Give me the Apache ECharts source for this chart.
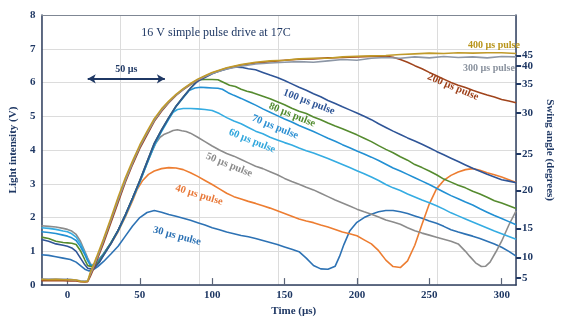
<!DOCTYPE html>
<html>
<head>
<meta charset="utf-8">
<script src="https://cdn.jsdelivr.net/npm/echarts@6/dist/echarts.min.js"></script>
<style>html,body{margin:0;padding:0;background:#fff}#c{width:563px;height:322px}</style>
</head>
<body>
<div id="c"></div>
<script>
// ---- axes / ticks ----
const xMin = -18, xMax = 310;
const xTicks = [0, 50, 100, 150, 200, 250, 300];
const yTicks = [0, 1, 2, 3, 4, 5, 6, 7, 8];
const angleLabels = [5, 10, 15, 20, 25, 30, 35, 40, 45];
const angleTickV = [0.21, 0.82, 1.68, 2.80, 3.89, 5.10, 5.96, 6.49, 6.80];
const seriesNames = ['30 µs pulse','40 µs pulse','50 µs pulse','60 µs pulse','70 µs pulse','80 µs pulse','100 µs pulse','200 µs pulse','300 µs pulse','400 µs pulse'];
const arrowSpan = [14, 67.3];
const arrowLevel = 6.11;

// ---- series data: [time µs, light intensity V] ----
const pulse30 = [[-18,0.90],[-13,0.88],[-8,0.84],[-3,0.80],[2,0.76],[6,0.68],[9,0.58],[12,0.47],[15,0.42],[18,0.46],[21,0.55],[25,0.7],[30,0.92],[35,1.15],[40,1.45],[45,1.75],[50,2.0],[55,2.15],[60,2.21],[65,2.16],[70,2.09],[75,2.04],[80,1.98],[85,1.92],[90,1.85],[95,1.78],[100,1.70],[105,1.64],[110,1.57],[115,1.52],[120,1.47],[125,1.43],[130,1.38],[135,1.32],[140,1.26],[145,1.2],[150,1.13],[155,1.06],[160,0.99],[165,0.8],[170,0.58],[175,0.48],[180,0.47],[185,0.56],[188,0.85],[191,1.2],[195,1.6],[200,1.86],[205,2.0],[210,2.1],[215,2.17],[220,2.21],[225,2.21],[230,2.17],[235,2.12],[240,2.05],[245,1.98],[250,1.9],[255,1.83],[260,1.74],[265,1.64],[270,1.57],[275,1.51],[280,1.45],[285,1.38],[290,1.3],[295,1.22],[300,1.12],[305,1.0],[310,0.86]];
const pulse40 = [[14,0.58],[17,0.56],[20,0.68],[25,0.92],[30,1.22],[35,1.58],[40,2.02],[45,2.5],[48,2.82],[52,3.1],[56,3.28],[60,3.38],[65,3.45],[70,3.48],[75,3.47],[80,3.42],[85,3.33],[90,3.22],[95,3.1],[100,2.98],[105,2.85],[110,2.72],[115,2.62],[120,2.55],[125,2.48],[130,2.42],[135,2.35],[140,2.28],[145,2.2],[150,2.12],[155,2.04],[160,1.96],[165,1.9],[170,1.85],[175,1.78],[180,1.72],[185,1.65],[190,1.57],[195,1.52],[200,1.46],[205,1.34],[210,1.22],[215,1.02],[220,0.74],[225,0.55],[230,0.52],[235,0.72],[240,1.18],[245,1.8],[250,2.4],[255,2.85],[260,3.1],[265,3.25],[270,3.35],[275,3.42],[280,3.45],[285,3.4],[290,3.33],[295,3.27],[300,3.2],[305,3.12],[310,3.04]];
const pulse50 = [[-18,1.76],[-13,1.74],[-8,1.72],[-3,1.68],[0,1.65],[3,1.6],[6,1.5],[9,1.3],[12,1.0],[14,0.8],[16,0.62],[18,0.6],[21,0.72],[25,0.93],[30,1.25],[35,1.62],[40,2.06],[45,2.56],[50,3.06],[55,3.6],[58,3.92],[61,4.2],[64,4.38],[67,4.47],[70,4.52],[73,4.58],[76,4.6],[79,4.57],[82,4.55],[85,4.5],[90,4.38],[95,4.25],[100,4.12],[105,4.0],[110,3.9],[115,3.82],[120,3.72],[125,3.62],[130,3.52],[135,3.45],[140,3.36],[145,3.27],[150,3.16],[155,3.07],[160,2.99],[165,2.9],[170,2.82],[175,2.72],[180,2.62],[185,2.52],[190,2.43],[195,2.34],[200,2.25],[205,2.17],[210,2.1],[215,2.02],[220,1.93],[225,1.87],[230,1.8],[235,1.7],[240,1.61],[245,1.54],[250,1.48],[255,1.42],[260,1.36],[265,1.3],[270,1.22],[275,1.0],[278,0.85],[282,0.66],[286,0.55],[289,0.56],[292,0.68],[296,0.98],[300,1.3],[305,1.78],[310,2.2]];
const pulse60 = [[-18,1.70],[-13,1.68],[-8,1.65],[-3,1.6],[0,1.58],[3,1.52],[6,1.42],[9,1.22],[12,0.95],[14,0.75],[16,0.6],[18,0.58],[21,0.7],[25,0.92],[30,1.24],[35,1.6],[40,2.05],[45,2.55],[50,3.05],[55,3.6],[60,4.12],[65,4.55],[70,4.92],[73,5.12],[76,5.2],[80,5.23],[85,5.23],[90,5.22],[95,5.2],[100,5.17],[105,5.08],[110,4.96],[115,4.86],[120,4.78],[125,4.67],[130,4.56],[135,4.48],[140,4.38],[145,4.3],[150,4.22],[155,4.15],[160,4.06],[165,3.98],[170,3.91],[175,3.83],[180,3.75],[185,3.66],[190,3.57],[195,3.48],[200,3.39],[205,3.3],[210,3.2],[215,3.1],[220,2.98],[225,2.88],[230,2.8],[235,2.7],[240,2.61],[245,2.52],[250,2.44],[255,2.35],[260,2.25],[265,2.14],[270,2.05],[275,1.96],[280,1.87],[285,1.78],[290,1.69],[295,1.6],[300,1.52],[305,1.44],[310,1.36]];
const pulse70 = [[-18,1.58],[-13,1.56],[-8,1.53],[-3,1.48],[0,1.45],[3,1.4],[6,1.32],[9,1.14],[12,0.9],[14,0.72],[16,0.58],[18,0.57],[21,0.69],[25,0.93],[30,1.25],[35,1.62],[40,2.07],[45,2.57],[50,3.07],[55,3.62],[60,4.16],[65,4.57],[70,4.93],[75,5.28],[80,5.55],[84,5.76],[88,5.84],[92,5.86],[96,5.85],[100,5.84],[104,5.83],[107,5.8],[111,5.7],[115,5.62],[120,5.53],[125,5.43],[130,5.33],[135,5.22],[140,5.12],[145,5.02],[150,4.92],[155,4.83],[160,4.73],[165,4.64],[170,4.55],[175,4.45],[180,4.35],[185,4.26],[190,4.16],[195,4.07],[200,3.97],[205,3.88],[210,3.79],[215,3.69],[220,3.58],[225,3.47],[230,3.38],[235,3.28],[240,3.18],[245,3.08],[250,2.98],[255,2.87],[260,2.76],[265,2.65],[270,2.56],[275,2.46],[280,2.37],[285,2.26],[290,2.16],[295,2.06],[300,1.97],[305,1.88],[310,1.79]];
const pulse80 = [[-18,1.42],[-13,1.38],[-8,1.3],[-3,1.26],[0,1.25],[3,1.24],[6,1.2],[9,1.02],[12,0.75],[14,0.58],[16,0.55],[19,0.55],[22,0.7],[25,0.9],[30,1.24],[35,1.62],[40,2.08],[45,2.58],[50,3.1],[55,3.65],[60,4.2],[65,4.6],[70,4.96],[75,5.3],[80,5.57],[85,5.83],[88,5.98],[91,6.08],[95,6.09],[100,6.09],[104,6.08],[108,6.0],[112,5.92],[116,5.88],[120,5.8],[124,5.74],[128,5.7],[132,5.64],[136,5.58],[140,5.52],[145,5.43],[150,5.34],[155,5.24],[160,5.15],[165,5.08],[170,4.98],[175,4.9],[180,4.8],[185,4.71],[190,4.63],[195,4.54],[200,4.45],[205,4.35],[210,4.25],[215,4.13],[220,4.02],[225,3.92],[230,3.8],[235,3.7],[240,3.57],[245,3.48],[250,3.38],[255,3.27],[260,3.14],[265,3.05],[270,2.96],[275,2.88],[280,2.78],[285,2.7],[290,2.6],[295,2.5],[300,2.43],[305,2.35],[310,2.27]];
const pulse100 = [[-18,1.35],[-13,1.3],[-8,1.22],[-3,1.18],[0,1.15],[3,1.1],[6,1.0],[9,0.8],[12,0.6],[14,0.5],[16,0.48],[19,0.52],[22,0.67],[25,0.88],[30,1.22],[35,1.62],[40,2.08],[45,2.58],[50,3.1],[55,3.65],[60,4.2],[65,4.6],[70,4.96],[75,5.3],[80,5.57],[85,5.83],[90,6.04],[95,6.15],[100,6.26],[105,6.34],[110,6.4],[115,6.46],[120,6.45],[125,6.41],[130,6.38],[135,6.3],[140,6.22],[145,6.15],[150,6.06],[155,5.96],[160,5.86],[165,5.77],[170,5.67],[175,5.58],[180,5.47],[185,5.38],[190,5.28],[195,5.19],[200,5.1],[205,5.0],[210,4.9],[215,4.78],[220,4.67],[225,4.56],[230,4.46],[235,4.36],[240,4.27],[245,4.17],[250,4.07],[255,3.96],[260,3.86],[265,3.76],[270,3.66],[275,3.56],[280,3.46],[285,3.37],[290,3.28],[295,3.2],[300,3.12],[305,3.08],[310,3.03]];
const pulse200 = [[-18,0.13],[-13,0.14],[-8,0.13],[-3,0.13],[2,0.12],[6,0.12],[9,0.1],[12,0.09],[14,0.1],[16,0.28],[18,0.48],[20,0.7],[25,1.25],[30,1.85],[35,2.45],[40,3.05],[45,3.57],[50,4.05],[55,4.45],[60,4.85],[65,5.15],[70,5.4],[75,5.62],[80,5.79],[85,5.94],[90,6.07],[95,6.18],[100,6.28],[110,6.42],[120,6.52],[130,6.58],[140,6.62],[150,6.66],[160,6.69],[170,6.7],[180,6.73],[190,6.74],[200,6.76],[210,6.77],[220,6.78],[225,6.75],[230,6.68],[235,6.6],[240,6.5],[245,6.41],[250,6.3],[255,6.2],[260,6.1],[265,6.0],[270,5.92],[275,5.85],[280,5.77],[285,5.7],[290,5.63],[295,5.57],[300,5.5],[305,5.45],[310,5.4]];
const pulse300 = [[-18,0.18],[-8,0.18],[2,0.17],[9,0.13],[12,0.12],[14,0.13],[16,0.34],[18,0.54],[20,0.76],[25,1.32],[30,1.92],[35,2.52],[40,3.1],[45,3.62],[50,4.1],[55,4.5],[60,4.88],[65,5.18],[70,5.42],[75,5.63],[80,5.8],[85,5.95],[90,6.08],[95,6.18],[100,6.27],[110,6.4],[120,6.48],[130,6.55],[140,6.58],[150,6.6],[160,6.62],[170,6.6],[180,6.64],[190,6.68],[200,6.66],[210,6.72],[220,6.74],[230,6.72],[240,6.76],[250,6.73],[260,6.77],[270,6.74],[280,6.76],[290,6.73],[300,6.77],[310,6.76]];
const pulse400 = [[-18,0.17],[-13,0.16],[-8,0.17],[-3,0.16],[2,0.16],[6,0.15],[9,0.11],[12,0.1],[14,0.12],[16,0.4],[18,0.6],[20,0.82],[25,1.38],[30,1.98],[35,2.6],[40,3.18],[45,3.68],[50,4.15],[55,4.55],[60,4.93],[65,5.22],[70,5.45],[75,5.65],[80,5.82],[85,5.97],[90,6.1],[95,6.2],[100,6.3],[110,6.44],[120,6.53],[130,6.6],[140,6.64],[150,6.66],[160,6.7],[170,6.72],[180,6.72],[190,6.76],[200,6.78],[210,6.79],[220,6.8],[230,6.83],[240,6.85],[250,6.87],[260,6.86],[270,6.88],[280,6.87],[290,6.88],[300,6.88],[310,6.86]];

const allData = [pulse30, pulse40, pulse50, pulse60, pulse70, pulse80, pulse100, pulse200, pulse300, pulse400];
const colors = ['#2d72b4','#ed7d31','#8c8c8c','#35ace2','#2290d3','#558b2f','#2f5597','#a0441c','#8d97a6','#c09a2a'];
const labelColors = ['#2d72b4','#e8793a','#8a8a8a','#2fa6dc','#2a8fd2','#4f8a2d','#2e5597','#9e421c','#8a929e','#b8941a'];
// label layout: [x, y, angle deg, font size]
const labelPos = [[177,236,-15,10.5],[199,195,-17,10.5],[229,165,-22,10.5],[252,141,-22,10.5],[275,127,-22,10.5],[292,115,-22,10.5],[309,102,-21,10.5],[453,87,-23,10.5],[489,68,0,10],[494,45,0,10]];

const navy = '#1f3864';
const serif = '"Liberation Serif", "DejaVu Serif", serif';

const chart = echarts.init(document.getElementById('c'), null, {renderer: 'canvas'});

const series = allData.map((d, i) => ({
  name: seriesNames[i],
  type: 'line',
  data: d,
  xAxisIndex: 0,
  yAxisIndex: 0,
  showSymbol: false,
  symbol: 'none',
  lineStyle: {color: colors[i], width: 1.6},
  itemStyle: {color: colors[i]},
  z: 2 + i
}));
series[0].markLine = {
  silent: true,
  symbol: ['arrow', 'arrow'],
  symbolSize: [7, 8],
  lineStyle: {color: navy, width: 2, type: 'solid'},
  label: {show: true, formatter: '50 µs', position: 'insideMiddleTop', distance: 4,
          color: navy, fontFamily: serif, fontWeight: 'bold', fontSize: 10},
  data: [[{coord: [arrowSpan[0], arrowLevel]}, {coord: [arrowSpan[1], arrowLevel]}]]
};

const graphics = seriesNames.map((n, i) => ({
  type: 'text',
  x: labelPos[i][0], y: labelPos[i][1],
  rotation: labelPos[i][2] * Math.PI / 180,
  z: 100,
  style: {text: n, fill: labelColors[i], font: 'bold ' + labelPos[i][3] + 'px ' + serif, align: 'center', verticalAlign: 'middle'}
}));
graphics.push({
  type: 'text', x: 216, y: 33, z: 100,
  style: {text: '16 V simple pulse drive at 17C', fill: navy, font: '12px ' + serif, align: 'center', verticalAlign: 'middle'}
});

function angleFormatter(v) {
  for (let i = 0; i < angleTickV.length; i++) {
    if (Math.abs(v - angleTickV[i]) < 0.01) return String(angleLabels[i]);
  }
  return '';
}
const lowAngles = angleTickV.slice(0, 8);
const topAngles = angleTickV.slice(8);
const rightLabelStyle = {margin: 6, hideOverlap: false, color: navy, fontFamily: serif, fontWeight: 'bold', fontSize: 11, formatter: angleFormatter};

const option = {
  animation: false,
  backgroundColor: '#ffffff',
  grid: {left: 40, right: 31, top: 15, bottom: 28},
  graphic: graphics,
  xAxis: [
    {
      type: 'value', min: xMin, max: xMax, position: 'bottom',
      name: 'Time (µs)', nameLocation: 'middle', nameGap: 16,
      nameTextStyle: {color: navy, fontFamily: serif, fontWeight: 'bold', fontSize: 11, padding: [0, 0, 0, 30]},
      axisLine: {show: true, onZero: false, lineStyle: {color: '#2f3f5f', width: 1.5}},
      axisTick: {show: true, inside: true, length: 7, customValues: xTicks, lineStyle: {color: '#5a6478', width: 1.2}},
      axisLabel: {customValues: xTicks, margin: 5, color: navy, fontFamily: serif, fontWeight: 'bold', fontSize: 11},
      splitLine: {show: false}
    },
    {
      type: 'value', min: 0, max: 6, interval: 1, position: 'top',
      axisLine: {show: true, onZero: false, lineStyle: {color: '#7f8794', width: 1}},
      axisTick: {show: false}, axisLabel: {show: false},
      splitLine: {show: true, lineStyle: {color: '#dcdcdc', width: 1}}
    }
  ],
  yAxis: [
    {
      type: 'value', min: 0, max: 8, interval: 1, position: 'left',
      name: 'Light intensity (V)', nameLocation: 'middle', nameGap: 22,
      nameTextStyle: {color: navy, fontFamily: serif, fontWeight: 'bold', fontSize: 11},
      axisLine: {show: true, onZero: false, lineStyle: {color: '#2f3f5f', width: 1.5}},
      axisTick: {show: false},
      axisLabel: {customValues: yTicks, margin: 6, color: navy, fontFamily: serif, fontWeight: 'bold', fontSize: 11},
      splitLine: {show: true, lineStyle: {color: '#dcdcdc', width: 1}}
    },
    {
      type: 'value', min: 0, max: 8, position: 'right', offset: 0,
      name: 'Swing angle (degrees)', nameLocation: 'middle', nameGap: 19, nameRotate: -90,
      nameTextStyle: {color: navy, fontFamily: serif, fontWeight: 'bold', fontSize: 11},
      axisLine: {show: true, onZero: false, lineStyle: {color: '#2f3f5f', width: 1.5}},
      axisTick: {show: true, inside: false, length: 5, customValues: lowAngles, lineStyle: {color: navy, width: 2}},
      axisLabel: Object.assign({customValues: lowAngles}, rightLabelStyle),
      splitLine: {show: false}
    },
    {
      type: 'value', min: 0, max: 8, position: 'right', offset: 0,
      axisLine: {show: false, onZero: false},
      axisTick: {show: true, inside: false, length: 5, customValues: topAngles, lineStyle: {color: navy, width: 2}},
      axisLabel: Object.assign({customValues: topAngles}, rightLabelStyle),
      splitLine: {show: false}
    }
  ],
  series: series
};
chart.setOption(option);
</script>
</body>
</html>
